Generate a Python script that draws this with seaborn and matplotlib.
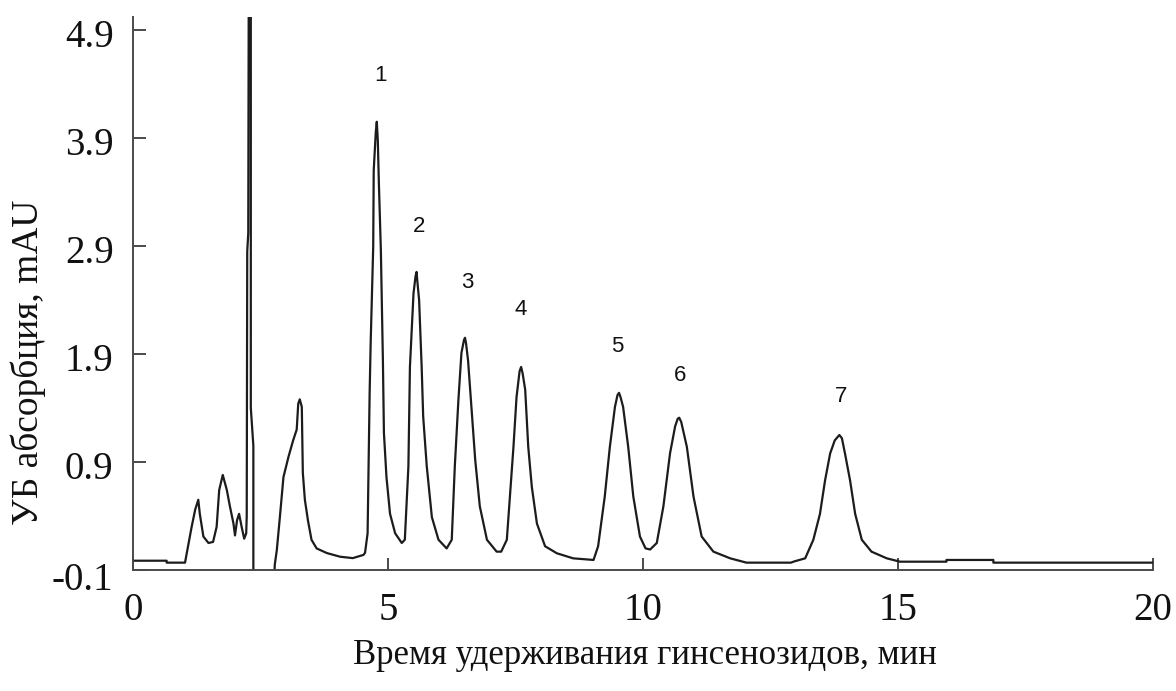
import matplotlib
matplotlib.use("Agg")
import matplotlib.pyplot as plt
import matplotlib.transforms as mtransforms
import seaborn as sns
import pandas as pd

# ---- data ----
time_min = [0.00, 0.66, 0.66, 1.02, 1.08, 1.15, 1.22, 1.28, 1.31, 1.38, 1.48, 1.57,
            1.64, 1.69, 1.76, 1.84, 1.90, 1.97, 2.00, 2.04, 2.08, 2.13, 2.18, 2.22,
            2.23, 2.24, 2.26, 2.27, 2.31, 2.31, 2.36, 2.36, 2.75, 2.78, 2.82, 2.88,
            2.95, 3.05, 3.14, 3.21, 3.24, 3.27, 3.31, 3.33, 3.37, 3.43, 3.50, 3.60,
            3.80, 4.06, 4.31, 4.52, 4.55, 4.60, 4.61, 4.64, 4.66, 4.71, 4.72, 4.76,
            4.78, 4.80, 4.82, 4.86, 4.90, 4.92, 4.97, 5.04, 5.14, 5.27, 5.33,
            5.40, 5.43, 5.50, 5.54, 5.56, 5.58, 5.61, 5.66, 5.69, 5.76, 5.86, 5.99,
            6.15, 6.25, 6.31, 6.38, 6.44, 6.49, 6.51, 6.53, 6.57, 6.64, 6.71, 6.80,
            6.94, 7.13, 7.22, 7.33, 7.39, 7.46, 7.52, 7.58, 7.61, 7.64, 7.69, 7.75,
            7.82, 7.92, 8.08, 8.31, 8.63, 9.03, 9.12, 9.25, 9.35, 9.45, 9.50, 9.53,
            9.56, 9.61, 9.71, 9.81, 9.94, 10.05, 10.14, 10.27, 10.40, 10.53, 10.63,
            10.68, 10.71, 10.75, 10.86, 10.99, 11.15, 11.38, 11.71, 12.03, 12.90,
            12.97, 13.18, 13.34, 13.47, 13.57, 13.67, 13.76, 13.85, 13.90, 13.96,
            14.06, 14.16, 14.29, 14.48, 14.78, 15.04, 15.95, 15.95, 16.87, 16.87,
            20.00]
absorbance_mau = [-0.014, -0.014, -0.032, -0.032, 0.12, 0.30, 0.46, 0.55, 0.42, 0.21,
                  0.15, 0.16, 0.30, 0.64, 0.78, 0.64, 0.49, 0.33, 0.22, 0.36, 0.42,
                  0.30, 0.19, 0.24, 0.40, 2.85, 3.02, 5.40, 5.40, 1.40, 1.05, -0.40,
                  -0.40, -0.05, 0.085, 0.39, 0.76, 0.95, 1.10, 1.20, 1.44, 1.48, 1.41,
                  0.80, 0.55, 0.36, 0.18, 0.10, 0.057, 0.023, 0.010, 0.040, 0.06,
                  0.24, 0.55, 1.54, 2.00, 2.89, 3.60, 3.95, 4.05, 3.88, 3.50, 2.86,
                  1.84, 1.17, 0.76, 0.42, 0.24, 0.15, 0.18,
                  0.86, 1.78, 2.46, 2.62, 2.66, 2.55, 2.40, 1.78, 1.32, 0.86, 0.39,
                  0.18, 0.10, 0.18, 0.86, 1.47, 1.91, 2.03, 2.05, 2.00, 1.84, 1.38,
                  0.92, 0.49, 0.18, 0.07, 0.07, 0.18, 0.58, 1.04, 1.50, 1.74, 1.78,
                  1.72, 1.57, 1.04, 0.67, 0.33, 0.12, 0.055, 0.008, -0.007, 0.12,
                  0.58, 1.04, 1.41, 1.52, 1.54, 1.50, 1.41, 1.04, 0.58, 0.21, 0.10,
                  0.09, 0.15, 0.49, 0.98, 1.23, 1.30, 1.31, 1.27, 1.04, 0.58, 0.21,
                  0.07, 0.008, -0.032, -0.032, -0.020, 0.008, 0.18, 0.42, 0.73, 0.98,
                  1.10, 1.15, 1.12, 0.98, 0.73, 0.42, 0.18, 0.07, 0.008, -0.023,
                  -0.023, -0.007, -0.007, -0.032, -0.032]

peak_labels = ["1", "2", "3", "4", "5", "6", "7"]
peak_label_x = [4.86, 5.61, 6.55, 7.61, 9.49, 10.73, 13.88]
peak_label_y = [4.48, 3.08, 2.56, 2.31, 1.97, 1.70, 1.51]

x_ticks = [0, 5, 10, 15, 20]
y_ticks = [-0.1, 0.9, 1.9, 2.9, 3.9, 4.9]
y_tick_labels = ["-0.1", "0.9", "1.9", "2.9", "3.9", "4.9"]

x_label = "Время удерживания гинсенозидов, мин"
y_label = "УБ абсорбция, mAU"

# ---- styling ----
sns.set_theme(style="ticks")
plt.rcParams["font.family"] = ["Liberation Serif", "DejaVu Serif"]

df = pd.DataFrame({"t": time_min, "a": absorbance_mau})

fig = plt.figure(figsize=(11.76, 6.91), dpi=100)
ax = fig.add_axes([133 / 1176, 1 - 570 / 691, 1020 / 1176, 553 / 691])

sns.lineplot(data=df, x="t", y="a", sort=False, estimator=None, ax=ax,
             color="#1c1c1c", linewidth=1.6)

ax.set_xlim(0, 20)
ax.set_ylim(-0.1, 5.02)
ax.set_xticks(x_ticks)
ax.set_xticklabels([str(v) for v in x_ticks])
ax.set_yticks(y_ticks)
ax.set_yticklabels(y_tick_labels)

for side in ["top", "right"]:
    ax.spines[side].set_visible(False)
for side in ["left", "bottom"]:
    ax.spines[side].set_color("#4a4a4a")
    ax.spines[side].set_linewidth(1.4)

ax.tick_params(axis="both", direction="in", length=9, width=1.4,
               color="#4a4a4a", labelsize=28, labelcolor="#111111")
ax.tick_params(axis="x", pad=16)
ax.tick_params(axis="y", pad=14)

for lab in ax.get_yticklabels():
    dy = -6 if lab.get_text() == "-0.1" else -3
    offset = mtransforms.ScaledTranslation(0, dy / 100, fig.dpi_scale_trans)
    lab.set_transform(lab.get_transform() + offset)

ax.set_xlabel(x_label, fontsize=25, color="#111111", va="center")
ax.set_ylabel(y_label, fontsize=27, color="#111111", va="center")
ax.xaxis.set_label_coords(0.502, -0.154)
ax.yaxis.set_label_coords(-0.103, 0.376)

for lab, lx, ly in zip(peak_labels, peak_label_x, peak_label_y):
    ax.text(lx, ly, lab, ha="center", va="center", fontsize=16,
            family=["Liberation Sans", "DejaVu Sans"], color="#111111")

fig.savefig("out.png", dpi=100)
